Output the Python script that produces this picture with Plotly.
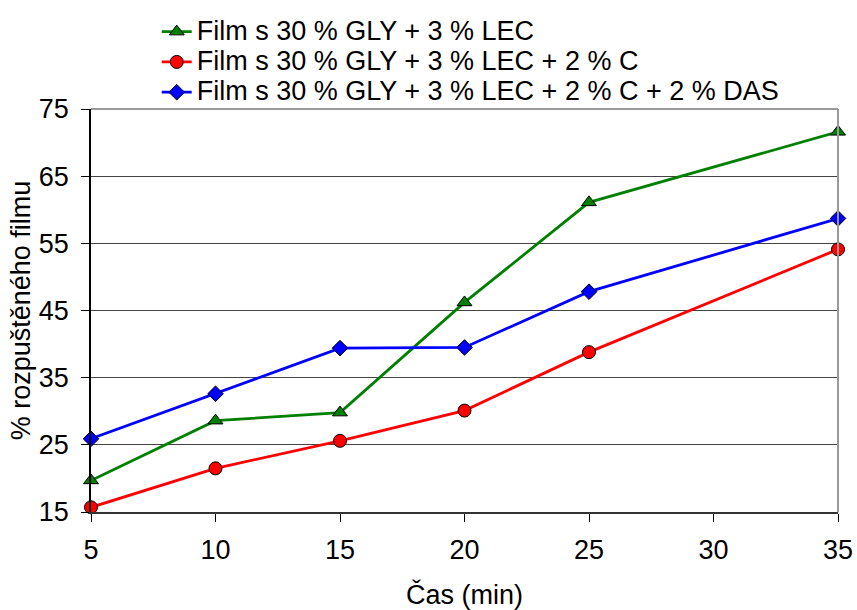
import plotly.graph_objects as go

time_min = [5, 10, 15, 20, 25, 35]
lec = [19.7, 28.6, 29.8, 46.2, 61.1, 71.6]
lec_c = [15.7, 21.5, 25.6, 30.1, 38.8, 54.1]
lec_c_das = [25.9, 32.6, 39.4, 39.5, 47.8, 58.7]

names = [
    "Film s 30 % GLY + 3 % LEC",
    "Film s 30 % GLY + 3 % LEC + 2 % C",
    "Film s 30 % GLY + 3 % LEC + 2 % C + 2 % DAS",
]
colors = ["#008000", "#FF0000", "#0000FF"]
symbols = ["triangle-up", "circle", "diamond"]
sizes = [13, 13, 12]
series = [lec, lec_c, lec_c_das]

fig = go.Figure()
for n, c, s, sz, v in zip(names, colors, symbols, sizes, series):
    fig.add_trace(go.Scatter(
        x=time_min, y=v, mode="lines+markers",
        name='<span style="font-size:27px">' + n + "</span>",
        line=dict(color=c, width=2.8),
        marker=dict(symbol=s, size=sz, color=c,
                    line=dict(color="black", width=1)),
        cliponaxis=False,
    ))

fig.update_layout(
    width=857, height=610,
    margin=dict(l=91, r=19, t=107, b=98),
    paper_bgcolor="white", plot_bgcolor="white",
    font=dict(family="Liberation Sans, Arial, sans-serif", size=27, color="black"),
    showlegend=True,
    legend=dict(x=0.088, y=1.242, xanchor="left", yanchor="top",
                bgcolor="rgba(0,0,0,0)", font=dict(size=21),
                tracegroupgap=0, itemwidth=30),
    xaxis=dict(range=[5, 35], tick0=5, dtick=5, showgrid=False,
               showline=True, linecolor="#333333", linewidth=1.5,
               ticks="outside", ticklen=8, tickcolor="black",
               ticklabelstandoff=5, automargin=False,
               mirror=False, zeroline=False,
               title=dict(text="Čas (min)", standoff=30, font=dict(size=27))),
    yaxis=dict(range=[15, 75], tick0=15, dtick=10, showgrid=True,
               gridcolor="#444444", gridwidth=1,
               showline=True, linecolor="black", linewidth=1.5,
               ticks="outside", ticklen=8, tickcolor="black",
               ticklabelstandoff=7, automargin=False,
               zeroline=False,
               title=dict(text="% rozpuštěného filmu", standoff=0, font=dict(size=27))),
)
# gray top and right border
fig.add_shape(type="line", xref="paper", yref="paper", x0=0, x1=1, y0=1, y1=1,
              line=dict(color="#999999", width=2))
fig.add_shape(type="line", xref="paper", yref="paper", x0=1, x1=1, y0=0, y1=1,
              line=dict(color="#999999", width=2))

fig.write_html("out.html")
